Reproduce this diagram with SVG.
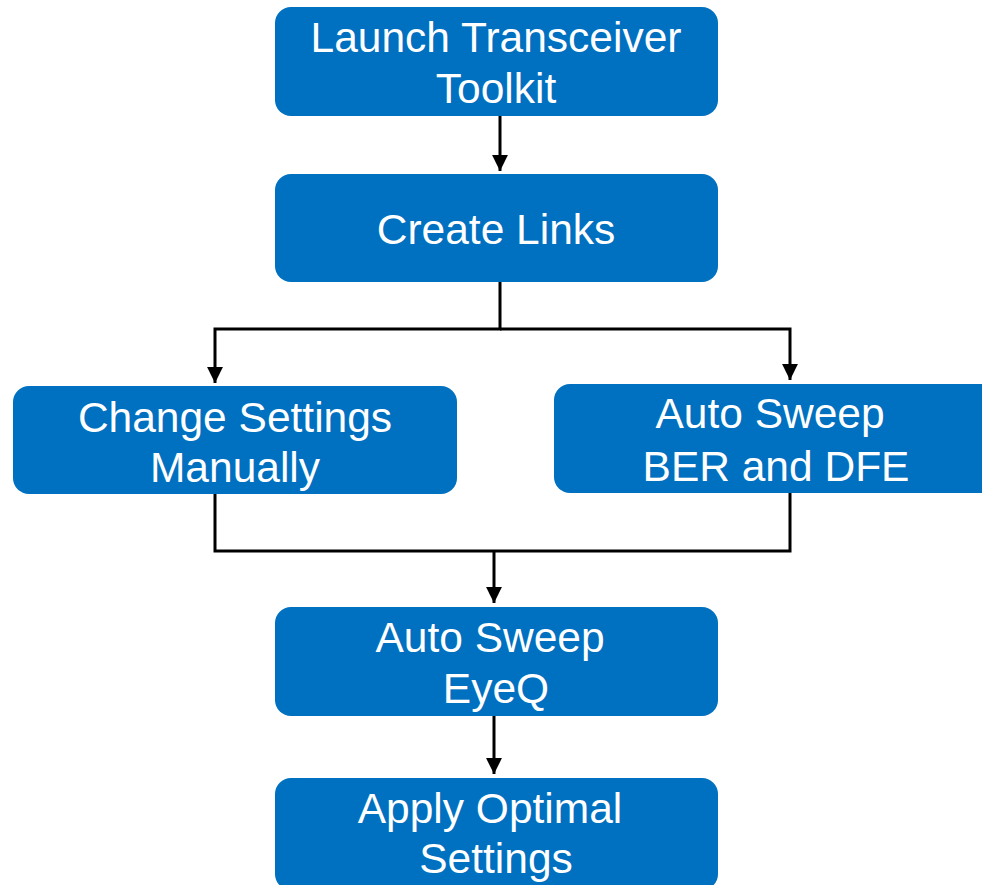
<svg xmlns="http://www.w3.org/2000/svg" width="982" height="885" viewBox="0 0 982 885">
  <style>
    .box { fill: #0070C0; }
    .lbl { fill: #ffffff; font-family: "Liberation Sans", Arial, sans-serif; font-size: 42.5px; text-anchor: middle; }
    .wire { fill: none; stroke: #000000; stroke-width: 3; }
  </style>
  <defs>
    <marker id="arrow" viewBox="0 0 10 10" refX="10" refY="5" markerWidth="5.3" markerHeight="5.3" markerUnits="strokeWidth" orient="auto">
      <path d="M0,0 L10,5 L0,10 Z" fill="#000000"/>
    </marker>
  </defs>
  <rect width="982" height="885" fill="#ffffff"/>

  <g id="connectors">
    <path class="wire" d="M500,116 V171" marker-end="url(#arrow)"/>
    <path class="wire" d="M500,282 V329 H215 V383" marker-end="url(#arrow)"/>
    <path class="wire" d="M500,329 H790 V380" marker-end="url(#arrow)"/>
    <path class="wire" d="M215,494 V551 H790 V493"/>
    <path class="wire" d="M494,551 V603" marker-end="url(#arrow)"/>
    <path class="wire" d="M494,716 V774" marker-end="url(#arrow)"/>
  </g>

  <g id="launch">
    <rect class="box" x="275" y="7" width="443" height="109" rx="16"/>
    <text class="lbl" x="496" y="52">Launch Transceiver</text>
    <text class="lbl" x="496" y="103">Toolkit</text>
  </g>

  <g id="create-links">
    <rect class="box" x="275" y="174" width="443" height="108" rx="16"/>
    <text class="lbl" x="496" y="244">Create Links</text>
  </g>

  <g id="manual">
    <rect class="box" x="13" y="386" width="444" height="108" rx="16"/>
    <text class="lbl" x="235" y="432">Change Settings</text>
    <text class="lbl" x="235" y="482">Manually</text>
  </g>

  <g id="auto-ber">
    <rect class="box" x="554" y="384" width="456" height="109" rx="16"/>
    <text class="lbl" x="770" y="428">Auto Sweep</text>
    <text class="lbl" x="776" y="481">BER and DFE</text>
  </g>

  <g id="auto-eyeq">
    <rect class="box" x="275" y="607" width="443" height="109" rx="16"/>
    <text class="lbl" x="490" y="652">Auto Sweep</text>
    <text class="lbl" x="496" y="703">EyeQ</text>
  </g>

  <g id="apply">
    <rect class="box" x="275" y="778" width="443" height="112" rx="16"/>
    <text class="lbl" x="490" y="823">Apply Optimal</text>
    <text class="lbl" x="496" y="873">Settings</text>
  </g>
</svg>
